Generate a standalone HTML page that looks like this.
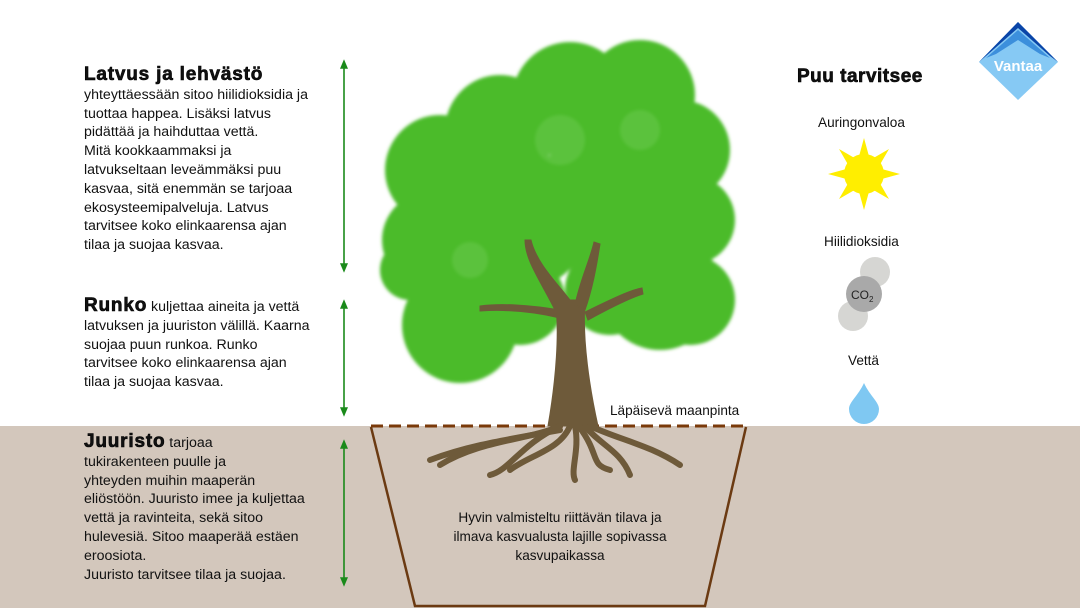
<!DOCTYPE html>
<html><head><meta charset="utf-8"><style>
*{margin:0;padding:0}
body{width:1080px;height:608px;position:relative;overflow:hidden;background:#fff;font-family:"Liberation Sans",sans-serif;color:#111}
.t{position:absolute;left:84px;font-size:14.2px;line-height:18.8px;white-space:nowrap}
.h{font-weight:900;font-size:19px;letter-spacing:0.8px;-webkit-text-stroke:0.6px #000}
.lbl{position:absolute;font-size:13.6px;white-space:nowrap}
</style></head><body>
<div style="position:absolute;left:0;top:426px;width:1080px;height:182px;background:#d3c7bc"></div>
<svg style="position:absolute;left:0;top:0" width="1080" height="608">
<defs>
<marker id="a" markerWidth="6" markerHeight="6" refX="3" refY="3" orient="auto-start-reverse"><path d="M0,0.5 L6,3 L0,5.5z" fill="#1a8a1a"/></marker>
<filter id="bl"><feGaussianBlur stdDeviation="1.5"/></filter>
</defs>
<g stroke="#1a8a1a" stroke-width="1.6" marker-start="url(#a)" marker-end="url(#a)">
<line x1="344" y1="64" x2="344" y2="268"/>
<line x1="344" y1="304" x2="344" y2="412"/>
<line x1="344" y1="444" x2="344" y2="582"/>
</g>
<path d="M371,427 L415,606 L705,606 L746,427" fill="none" stroke="#6b3a12" stroke-width="2.5"/>
<line x1="371" y1="426" x2="746" y2="426" stroke="#7a3a0a" stroke-width="3" stroke-dasharray="12,6"/>
<g fill="#4cbb2c" filter="url(#bl)">
<circle cx="440" cy="170" r="55"/><circle cx="500" cy="130" r="55"/><circle cx="570" cy="100" r="58"/>
<circle cx="640" cy="95" r="55"/><circle cx="680" cy="150" r="50"/><circle cx="690" cy="220" r="45"/>
<circle cx="430" cy="240" r="48"/><circle cx="460" cy="325" r="58"/><circle cx="520" cy="220" r="70"/>
<circle cx="610" cy="200" r="75"/><circle cx="660" cy="290" r="60"/><circle cx="690" cy="300" r="45"/>
<circle cx="520" cy="300" r="45"/><circle cx="610" cy="290" r="45"/><circle cx="410" cy="270" r="30"/>
</g>
<g fill="#6fcc55" opacity="0.45" filter="url(#bl)"><circle cx="560" cy="140" r="25"/><circle cx="640" cy="130" r="20"/><circle cx="470" cy="260" r="18"/></g>
<g fill="#6e5a3a" stroke="#6e5a3a">
<path d="M548,426 C556,380 560,330 555,300 L585,300 C582,340 590,390 598,426 Z"/>
<path d="M555,310 C540,280 525,260 525,240 L531,240 C536,262 556,282 570,300Z"/>
<path d="M575,305 C580,280 590,260 594,242 L600,244 C596,270 592,290 585,310Z"/>
<path d="M560,310 C530,305 500,303 480,306 L480,311 C510,309 535,312 560,318Z"/>
<path d="M585,312 C610,300 630,290 642,288 L643,294 C630,298 610,308 588,320Z"/>
</g>
<g fill="none" stroke="#6e5a3a" stroke-width="6" stroke-linecap="round">
<path d="M560,426 C530,440 480,440 440,465"/><path d="M560,426 C520,445 510,470 490,475"/>
<path d="M570,426 C560,450 530,455 510,470"/><path d="M575,426 C580,450 570,470 575,480"/>
<path d="M585,426 C600,445 620,450 630,475"/><path d="M590,426 C620,440 650,445 680,465"/>
<path d="M560,430 C505,440 470,445 430,460"/><path d="M580,428 C600,455 590,465 610,470"/>
</g>
<g transform="translate(864,174)">
<polygon fill="#ffee00" points="0,-36 6,-14 25,-25 14,-6 36,0 14,6 25,25 6,14 0,36 -6,14 -25,25 -14,6 -36,0 -14,-6 -25,-25 -6,-14"/>
<circle r="20" fill="#ffee00"/>
</g>
<circle cx="875" cy="272" r="15" fill="#d6d6d3"/>
<circle cx="853" cy="316" r="15" fill="#d6d6d3"/>
<circle cx="864" cy="294" r="18" fill="#a9a9a9"/>
<text x="851" y="299" font-family="Liberation Sans" font-size="12" fill="#222">CO<tspan font-size="8" dy="3">2</tspan></text>
<path d="M864,383 C858,396 849,402 849,409 A15,15 0 0 0 879,409 C879,402 870,396 864,383Z" fill="#7fc8f2"/>
<polygon points="1018,22 1058,62 1018,100 979,62" fill="#86c9f4"/>
<polygon points="1018,22 1058,62 1050,56 1018,28 986,56 979,62" fill="#0a45a8"/>
<polygon points="1018,30 1050,58 1040,54 1018,40 996,54 986,58" fill="#3c8fdc"/>
<text x="1018" y="71" text-anchor="middle" font-family="Liberation Sans" font-weight="bold" font-size="15" fill="#fff">Vantaa</text>
</svg>
<div class="t" style="top:66px"><span class="h">Latvus ja lehvästö</span><br>yhteyttäessään sitoo hiilidioksidia ja<br>tuottaa happea. Lisäksi latvus<br>pidättää ja haihduttaa vettä.<br>Mitä kookkaammaksi ja<br>latvukseltaan leveämmäksi puu<br>kasvaa, sitä enemmän se tarjoaa<br>ekosysteemipalveluja. Latvus<br>tarvitsee koko elinkaarensa ajan<br>tilaa ja suojaa kasvaa.</div>
<div class="t" style="top:297px"><span class="h">Runko</span> kuljettaa aineita ja vettä<br>latvuksen ja juuriston välillä. Kaarna<br>suojaa puun runkoa. Runko<br>tarvitsee koko elinkaarensa ajan<br>tilaa ja suojaa kasvaa.</div>
<div class="t" style="top:433px"><span class="h">Juuristo</span> tarjoaa<br>tukirakenteen puulle ja<br>yhteyden muihin maaperän<br>eliöstöön. Juuristo imee ja kuljettaa<br>vettä ja ravinteita, sekä sitoo<br>hulevesiä. Sitoo maaperää estäen<br>eroosiota.<br>Juuristo tarvitsee tilaa ja suojaa.</div>
<div class="lbl" style="left:610px;top:403px">Läpäisevä maanpinta</div>
<div class="lbl" style="left:440px;top:508px;width:240px;text-align:center;line-height:19px;white-space:normal">Hyvin valmisteltu riittävän tilava ja ilmava kasvualusta lajille sopivassa kasvupaikassa</div>
<div style="position:absolute;left:797px;top:66px;font-weight:900;font-size:19px;letter-spacing:0.5px;-webkit-text-stroke:0.6px #000">Puu tarvitsee</div>
<div class="lbl" style="left:818px;top:115px">Auringonvaloa</div>
<div class="lbl" style="left:824px;top:234px">Hiilidioksidia</div>
<div class="lbl" style="left:848px;top:353px">Vettä</div>
</body></html>
